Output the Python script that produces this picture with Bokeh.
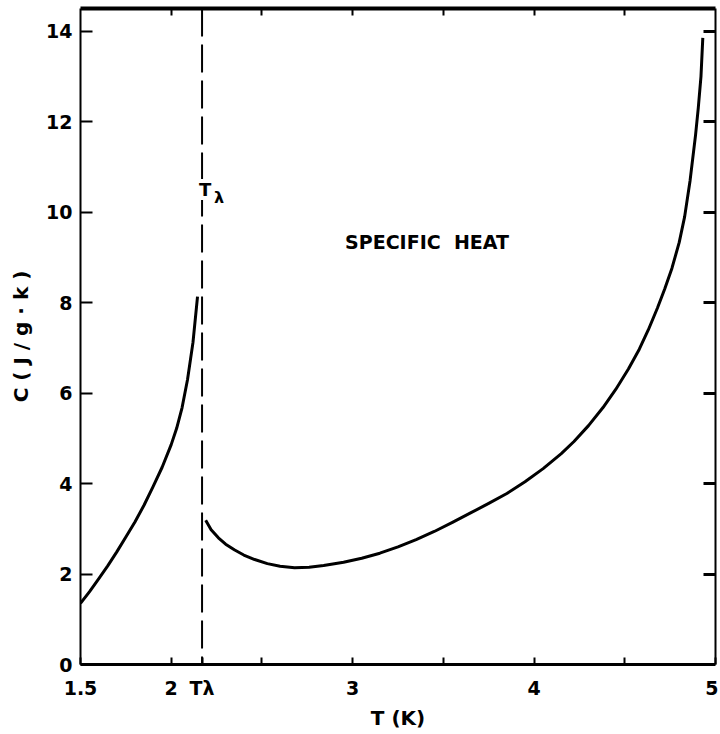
from bokeh.plotting import figure
from bokeh.models import LinearAxis, FixedTicker, Span, Label, Range1d
from bokeh.embed import file_html
from bokeh.resources import INLINE

# ---- data ----
T_below = [1.50, 1.55, 1.60, 1.65, 1.70, 1.75, 1.80, 1.85, 1.90, 1.95,
           2.00, 2.03, 2.06, 2.09, 2.12, 2.145]
C_below = [1.35, 1.61, 1.89, 2.18, 2.49, 2.82, 3.15, 3.52, 3.93, 4.36,
           4.86, 5.22, 5.68, 6.30, 7.12, 8.13]

T_above = [2.19, 2.22, 2.26, 2.30, 2.35, 2.40, 2.46, 2.53, 2.60, 2.68, 2.76,
           2.84, 2.95, 3.05, 3.15, 3.25, 3.35, 3.45, 3.55, 3.65, 3.75, 3.85,
           3.95, 4.05, 4.15, 4.22, 4.30, 4.38, 4.45, 4.52, 4.58, 4.63, 4.68,
           4.72, 4.76, 4.80, 4.83, 4.86, 4.89, 4.905, 4.92, 4.93]
C_above = [3.19, 2.98, 2.80, 2.66, 2.53, 2.42, 2.32, 2.23, 2.17, 2.14, 2.15,
           2.19, 2.26, 2.35, 2.46, 2.60, 2.76, 2.94, 3.14, 3.35, 3.56, 3.78,
           4.04, 4.33, 4.66, 4.93, 5.28, 5.68, 6.08, 6.53, 6.97, 7.40, 7.88,
           8.30, 8.76, 9.33, 9.90, 10.7, 11.7, 12.3, 13.0, 13.85]

T_lambda = 2.17
x_ticks = [1.5, 2.0, 2.17, 3.0, 4.0, 5.0]
x_tick_labels = ["1.5", "2", "T\u03bb", "3", "4", "5"]
x_minor = [2.5, 3.5, 4.5]
top_ticks = [2.0, 2.5, 3.0, 3.5, 4.0, 4.5]
y_ticks = [0, 2, 4, 6, 8, 10, 12, 14]
y_tick_labels = ["0", "2", "4", "6", "8", "10", "12", "14"]

FONT = "DejaVu Sans"

p = figure(frame_width=635, frame_height=656,
           x_range=Range1d(1.5, 5.0), y_range=Range1d(0, 14.5),
           output_backend="svg", toolbar_location=None,
           min_border_left=80, min_border_right=3, min_border_top=8,
           min_border_bottom=60, outline_line_color=None,
           background_fill_color="white", border_fill_color="white")
p.grid.visible = False

# bottom axis
xa = p.xaxis[0]
xa.ticker = FixedTicker(ticks=x_ticks, minor_ticks=x_minor)
xa.major_label_overrides = {t: s for t, s in zip(x_ticks, x_tick_labels)}
xa.major_tick_in = 7
xa.major_tick_out = 0
xa.minor_tick_in = 7
xa.minor_tick_out = 0
xa.axis_line_width = 3
xa.major_tick_line_width = 2
xa.minor_tick_line_width = 2
xa.major_label_standoff = 12
xa.major_label_text_font = FONT
xa.major_label_text_font_style = "bold"
xa.major_label_text_font_size = "19px"
xa.major_label_text_color = "black"
xa.axis_label = "T (K)"
xa.axis_label_standoff = 4
xa.axis_label_text_font = FONT
xa.axis_label_text_font_style = "bold"
xa.axis_label_text_font_size = "20px"
xa.axis_label_text_color = "black"

# left axis
ya = p.yaxis[0]
ya.ticker = FixedTicker(ticks=y_ticks)
ya.major_label_overrides = {t: s for t, s in zip(y_ticks, y_tick_labels)}
ya.major_tick_in = 12
ya.major_tick_out = 0
ya.minor_tick_in = 0
ya.minor_tick_out = 0
ya.axis_line_width = 2
ya.major_tick_line_width = 2
ya.major_label_standoff = 8
ya.major_label_text_font = FONT
ya.major_label_text_font_style = "bold"
ya.major_label_text_font_size = "19px"
ya.major_label_text_color = "black"
ya.axis_label = "C ( J / g \u00b7 k )"
ya.axis_label_standoff = 10
ya.axis_label_text_font = FONT
ya.axis_label_text_font_style = "bold"
ya.axis_label_text_font_size = "20px"
ya.axis_label_text_color = "black"

# top axis (ticks only)
top = LinearAxis(ticker=FixedTicker(ticks=top_ticks),
                 major_tick_in=7, major_tick_out=0, minor_tick_in=0, minor_tick_out=0,
                 axis_line_width=4, major_tick_line_width=2,
                 major_label_text_font_size="0px", major_label_standoff=0)
p.add_layout(top, "above")

# right axis (ticks only)
right = LinearAxis(ticker=FixedTicker(ticks=y_ticks[1:]),
                   major_tick_in=12, major_tick_out=0, minor_tick_in=0, minor_tick_out=0,
                   axis_line_width=2, major_tick_line_width=3,
                   major_label_text_font_size="0px", major_label_standoff=0)
p.add_layout(right, "right")

# lambda line
p.add_layout(Span(location=T_lambda, dimension="height", line_color="black",
                  line_width=2, line_dash="28 8"))

# curves
p.line(T_below, C_below, line_color="black", line_width=3, line_join="round")
p.line(T_above, C_above, line_color="black", line_width=3, line_join="round")

# labels
p.add_layout(Label(x=T_lambda, y=10.5, text="T", text_align="center",
                   text_baseline="middle", x_offset=3, text_color="black",
                   text_font=FONT, text_font_style="bold", text_font_size="18px",
                   background_fill_color="white"))
p.add_layout(Label(x=T_lambda, y=10.5, text="\u03bb", text_align="center",
                   text_baseline="middle", x_offset=17, y_offset=-8, text_color="black",
                   text_font=FONT, text_font_style="bold", text_font_size="16px"))
p.add_layout(Label(x=3.41, y=9.34, text="SPECIFIC\u00a0\u00a0HEAT", text_align="center",
                   text_baseline="middle", text_color="black",
                   text_font=FONT, text_font_style="bold", text_font_size="19px"))

open("out.html", "w").write(file_html(p, INLINE))
